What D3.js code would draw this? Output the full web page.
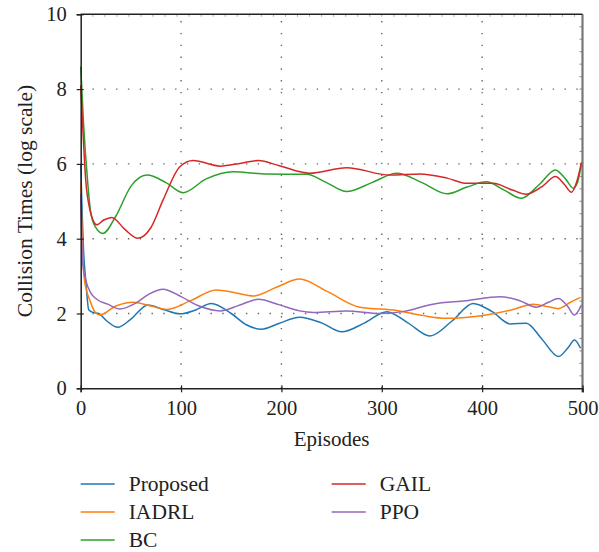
<!DOCTYPE html>
<html>
<head>
<meta charset="utf-8">
<script src="https://cdn.jsdelivr.net/npm/d3@7"></script>
<style>
  body { margin: 0; background: #fff; }
  text { font-family: "Liberation Serif", "DejaVu Serif", serif; fill: #222; }
</style>
</head>
<body>
<script>
// values
var seriesNames = ["Proposed", "IADRL", "BC", "GAIL", "PPO"];
var seriesColors = ["#1f77b4", "#ff7f0e", "#2ca02c", "#d62728", "#9467bd"];

var proposed = [[0,6.0],[3,3.6],[5,2.9],[8,2.1],[12,2.03],[18,2.0],[26,1.8],[37,1.63],[50,1.85],[67,2.23],[83,2.1],[99,1.99],[115,2.1],[130,2.27],[150,2.0],[165,1.7],[180,1.58],[198,1.74],[218,1.9],[240,1.75],[260,1.51],[283,1.75],[305,2.05],[326,1.75],[348,1.4],[370,1.8],[391,2.27],[410,2.05],[428,1.72],[444,1.74],[460,1.3],[476,0.85],[486,1.1],[492,1.29],[498,1.07]];
var iadrl = [[0,5.5],[3,3.08],[6,2.6],[9,2.36],[14,2.05],[19,1.96],[35,2.2],[52,2.3],[70,2.2],[86,2.11],[110,2.35],[135,2.63],[155,2.55],[172,2.47],[195,2.7],[218,2.92],[245,2.6],[278,2.17],[315,2.08],[340,1.95],[364,1.87],[404,1.96],[430,2.1],[451,2.25],[466,2.18],[476,2.13],[488,2.3],[498,2.43]];
var bc = [[0,8.6],[3,7.0],[7,5.5],[10,4.7],[15,4.3],[22,4.14],[35,4.6],[50,5.4],[66,5.7],[85,5.5],[102,5.23],[125,5.6],[152,5.79],[185,5.73],[225,5.72],[245,5.5],[265,5.26],[290,5.5],[315,5.75],[340,5.5],[365,5.2],[385,5.38],[404,5.52],[422,5.3],[439,5.08],[457,5.45],[473,5.84],[483,5.6],[491,5.35],[495,5.5],[499,6.0]];
var gail = [[0,8.1],[2,7.0],[5,5.57],[9,4.8],[16,4.37],[23,4.5],[31,4.57],[44,4.25],[57,4.01],[70,4.3],[82,5.03],[99,5.93],[112,6.09],[139,5.94],[160,6.02],[177,6.09],[198,5.95],[228,5.75],[265,5.9],[308,5.7],[338,5.73],[365,5.62],[385,5.48],[411,5.48],[430,5.3],[444,5.19],[460,5.4],[473,5.66],[482,5.45],[489,5.24],[494,5.5],[499,6.04]];
var ppo = [[0,5.2],[2,3.35],[5,2.9],[10,2.55],[16,2.38],[27,2.25],[39,2.12],[55,2.28],[68,2.52],[82,2.65],[100,2.45],[118,2.2],[139,2.07],[158,2.22],[177,2.38],[198,2.23],[218,2.07],[232,2.03],[265,2.07],[298,2.0],[321,2.05],[351,2.25],[384,2.34],[418,2.45],[437,2.35],[454,2.17],[466,2.3],[476,2.4],[485,2.2],[492,1.96],[499,2.23]];
var allSeries = [proposed, iadrl, bc, gail, ppo];

var xTicks = [0, 100, 200, 300, 400, 500];
var yTicks = [0, 2, 4, 6, 8, 10];

var width = 599, height = 552;
var plotLeft = 80.7, plotRight = 582.5, plotTop = 14.3, plotBottom = 388.3;

var svg = d3.select("body").append("svg")
    .attr("width", width)
    .attr("height", height);

var x = d3.scaleLinear().domain([0, 500]).range([plotLeft, plotRight]);
var y = d3.scaleLinear().domain([0, 10]).range([plotBottom, plotTop]);

// dotted grid
var grid = svg.append("g").attr("stroke", "#666").attr("stroke-width", 1.4)
    .attr("stroke-dasharray", "1.4,10.4").attr("fill", "none");
grid.selectAll("line.gx")
    .data(xTicks.slice(1, -1))
    .enter().append("line")
    .attr("class", "gx")
    .attr("x1", function(d){ return x(d); })
    .attr("x2", function(d){ return x(d); })
    .attr("y1", plotBottom)
    .attr("y2", plotTop);
grid.selectAll("line.gy")
    .data(yTicks.slice(1, -1))
    .enter().append("line")
    .attr("class", "gy")
    .attr("x1", plotLeft)
    .attr("x2", plotRight)
    .attr("y1", function(d){ return y(d); })
    .attr("y2", function(d){ return y(d); });

// minor ticks on top and right frame
var minorY = d3.range(1, 30).map(function(i){ return i / 3; });
var minorX = d3.range(1, 42).map(function(i){ return i * 12; });
svg.append("g").selectAll("line")
    .data(minorY)
    .enter().append("line")
    .attr("x1", plotRight - 3).attr("x2", plotRight)
    .attr("y1", function(d){ return y(d); })
    .attr("y2", function(d){ return y(d); })
    .attr("stroke", "#888").attr("stroke-width", 1);
svg.append("g").selectAll("line")
    .data(minorX)
    .enter().append("line")
    .attr("x1", function(d){ return x(d); })
    .attr("x2", function(d){ return x(d); })
    .attr("y1", plotTop).attr("y2", plotTop + 2.5)
    .attr("stroke", "#aaa").attr("stroke-width", 1);

// frame
svg.append("line").attr("x1", plotRight).attr("x2", plotRight).attr("y1", plotTop).attr("y2", plotBottom + 4)
    .attr("stroke", "#777").attr("stroke-width", 2.2);
svg.append("line").attr("x1", plotLeft).attr("x2", plotRight).attr("y1", plotTop).attr("y2", plotTop)
    .attr("stroke", "#222").attr("stroke-width", 1.5);

// lines
var line = d3.line()
    .x(function(d){ return x(d[0]); })
    .y(function(d){ return y(d[1]); })
    .curve(d3.curveMonotoneX);

svg.append("g").selectAll("path")
    .data(allSeries)
    .enter().append("path")
    .attr("d", line)
    .attr("fill", "none")
    .attr("stroke", function(d, i){ return seriesColors[i]; })
    .attr("stroke-width", 1.5);

// axes
var xAxis = svg.append("g")
    .attr("transform", "translate(0," + plotBottom + ")")
    .call(d3.axisBottom(x).tickValues(xTicks).tickSize(4).tickPadding(8));
var yAxis = svg.append("g")
    .attr("transform", "translate(" + plotLeft + ",0)")
    .call(d3.axisLeft(y).tickValues(yTicks).tickSize(4).tickPadding(10));
[xAxis, yAxis].forEach(function(a){
    a.select(".domain").attr("stroke", "#222").attr("stroke-width", 1.5);
    a.selectAll(".tick line").attr("stroke", "#222").attr("stroke-width", 1.2);
    a.selectAll(".tick text").attr("fill", "#222").attr("font-size", 20.5)
        .style("font-family", "Liberation Serif");
});
xAxis.selectAll(".tick line").attr("y1", -3).attr("y2", 4);
yAxis.selectAll(".tick line").attr("x1", 3).attr("x2", -4);

svg.append("text")
    .attr("x", (plotLeft + plotRight) / 2)
    .attr("y", 446)
    .attr("text-anchor", "middle")
    .attr("font-size", 21)
    .text("Episodes");

svg.append("text")
    .attr("transform", "translate(32,201) rotate(-90)")
    .attr("text-anchor", "middle")
    .attr("font-size", 21.5)
    .text("Collision Times (log scale)");

// legend
var legendPos = [[80.7, 484], [80.7, 512], [80.7, 540], [331.7, 484], [331.7, 512]];
var legend = svg.append("g").selectAll("g")
    .data(seriesNames)
    .enter().append("g")
    .attr("transform", function(d, i){ return "translate(" + legendPos[i][0] + "," + legendPos[i][1] + ")"; });
legend.append("line")
    .attr("x1", 0).attr("x2", 34)
    .attr("stroke", function(d, i){ return seriesColors[i]; })
    .attr("stroke-width", 1.5);
legend.append("text")
    .attr("x", 48)
    .attr("y", 7)
    .attr("font-size", 21.5)
    .text(function(d){ return d; });
</script>
</body>
</html>
